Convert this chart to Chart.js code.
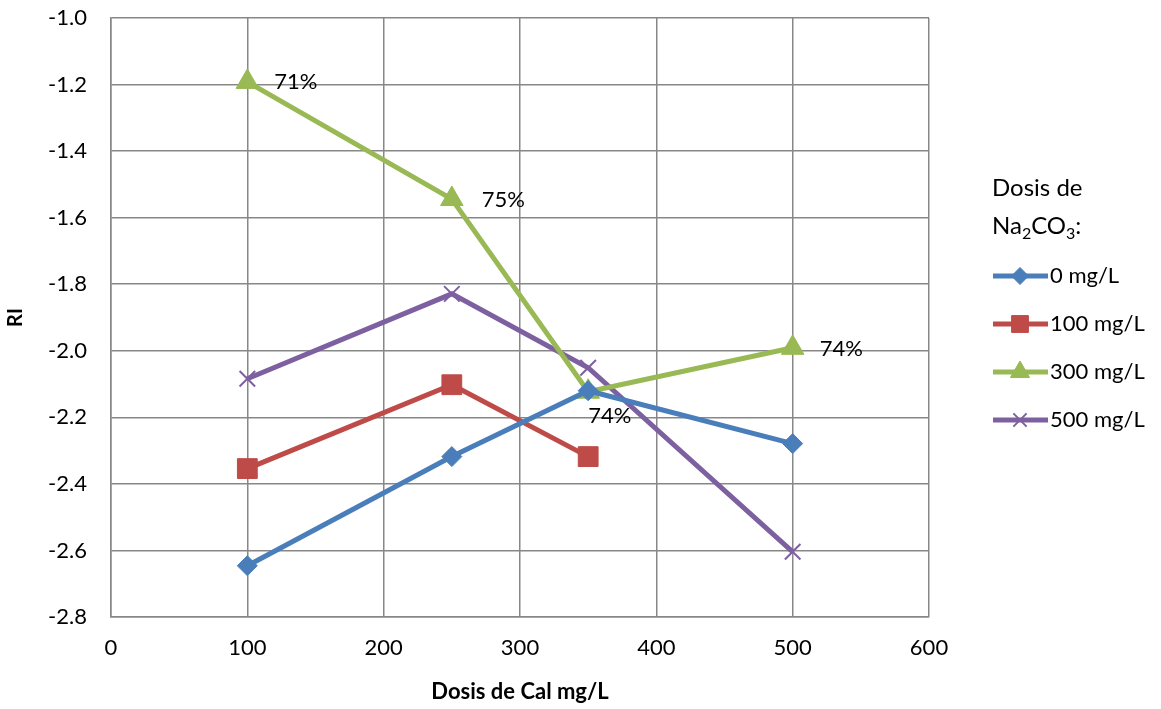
<!DOCTYPE html>
<html>
<head>
<meta charset="utf-8">
<script src="https://cdn.jsdelivr.net/npm/chart.js@4.4.1/dist/chart.umd.min.js"></script>
<style>
  html, body { margin: 0; padding: 0; background: #fff; }
  #wrap { width: 1161px; height: 709px; }
</style>
</head>
<body>
<div id="wrap"><canvas id="riChart" width="1161" height="709"></canvas></div>
<script>
const doseCal = [100, 250, 350, 500];
const ri0 = [-2.646, -2.318, -2.12, -2.279];
const ri100 = [-2.354, -2.102, -2.318];
const ri300 = [-1.192, -1.544, -2.123, -1.991];
const ri500 = [-2.084, -1.829, -2.051, -2.604];
const pctLabels300 = ['71%', '75%', '74%', '74%'];
const seriesNames = ['0 mg/L', '100 mg/L', '300 mg/L', '500 mg/L'];
const xTicks = [0, 100, 200, 300, 400, 500, 600];
const yTicks = [-2.8, -2.6, -2.4, -2.2, -2.0, -1.8, -1.6, -1.4, -1.2, -1.0];

const FONT = 'Lato, "Open Sans", sans-serif';
const colors = ['#4a7ebb', '#be4b48', '#98b954', '#7d60a0'];
const styles = ['rectRot', 'rect', 'triangle', 'crossRot'];
const radii = [10, 14, 13, 11];

function pts(ys) {
    return ys.map((y, i) => ({ x: doseCal[i], y: y }));
}

const allSeries = [ri0, ri100, ri300, ri500];

// percentage labels next to the 300 mg/L points
const pctPlugin = {
    id: 'pctLabels',
    afterDatasetsDraw(chart) {
        const meta = chart.getDatasetMeta(2);
        const c = chart.ctx;
        const offs = [[27, 0], [30, 1], [0, 24], [27, 1]];
        c.save();
        c.font = '22px ' + FONT;
        c.fillStyle = '#000';
        c.textBaseline = 'middle';
        c.textAlign = 'left';
        meta.data.forEach((p, i) => {
            c.fillText(pctLabels300[i], p.x + offs[i][0], p.y + offs[i][1]);
        });
        c.restore();
    }
};

// legend with subscripted title
const legendPlugin = {
    id: 'sideLegend',
    afterDraw(chart) {
        const c = chart.ctx;
        c.save();
        c.fillStyle = '#000';
        c.textBaseline = 'middle';
        c.textAlign = 'left';
        c.font = '24px ' + FONT;
        c.fillText('Dosis de', 992, 188);
        let x = 992;
        const y2 = 226;
        const parts = [['Na', 0], ['2', 1], ['CO', 0], ['3', 1], [':', 0]];
        parts.forEach(([t, sub]) => {
            c.font = (sub ? '16px ' : '24px ') + FONT;
            c.fillText(t, x, sub ? y2 + 8 : y2);
            x += c.measureText(t).width;
        });
        c.font = '22px ' + FONT;
        seriesNames.forEach((name, i) => {
            const y = 276 + i * 48;
            c.strokeStyle = colors[i];
            c.fillStyle = colors[i];
            c.lineWidth = 5;
            c.beginPath();
            c.moveTo(993, y);
            c.lineTo(1048, y);
            c.stroke();
            c.lineWidth = styles[i] === 'crossRot' ? 2 : 1;
            Chart.helpers.drawPoint(c, {
                pointStyle: styles[i], radius: radii[i] * 0.85, borderWidth: c.lineWidth
            }, 1020, y);
            c.fillStyle = '#000';
            c.fillText(name, 1050, y);
        });
        c.restore();
    }
};

const ctx = document.getElementById('riChart').getContext('2d');
const riChart = new Chart(ctx, {
    type: 'line',
    data: {
        datasets: allSeries.map((ys, i) => ({
            label: seriesNames[i],
            data: pts(ys),
            borderColor: colors[i],
            backgroundColor: colors[i],
            borderWidth: 5,
            pointStyle: styles[i],
            pointRadius: radii[i],
            pointBorderWidth: styles[i] === 'crossRot' ? 2 : 1,
            pointBorderColor: colors[i],
            pointBackgroundColor: colors[i],
            tension: 0,
            fill: false,
        })),
    },
    options: {
        responsive: false,
        animation: false,
        layout: { padding: { left: 0, right: 232, top: 18, bottom: 0 } },
        plugins: {
            legend: { display: false },
            tooltip: { enabled: false },
        },
        scales: {
            x: {
                type: 'linear',
                min: 0,
                max: 600,
                afterBuildTicks: s => { s.ticks = xTicks.map(v => ({ value: v })); },
                afterFit: s => { s.height = 92; s.paddingLeft = 0; s.paddingRight = 0; },
                grid: { color: '#878787', lineWidth: 1.5, drawTicks: false },
                border: { color: '#878787', width: 1.5 },
                ticks: { color: '#000', font: { family: FONT, size: 22 }, padding: 18 },
                title: { display: true, text: 'Dosis de Cal mg/L', color: '#000',
                         font: { family: FONT, size: 22, weight: 'bold' }, padding: { top: 6 } },
            },
            y: {
                type: 'linear',
                min: -2.8,
                max: -1.0,
                afterBuildTicks: s => { s.ticks = yTicks.map(v => ({ value: v })); },
                afterFit: s => { s.width = 111; s.paddingTop = 0; s.paddingBottom = 0; },
                grid: { color: '#878787', lineWidth: 1.5, drawTicks: false },
                border: { color: '#878787', width: 1.5 },
                ticks: { color: '#000', font: { family: FONT, size: 22 }, padding: 24,
                         callback: v => v.toFixed(1) },
                title: { display: true, text: 'RI', color: '#000',
                         font: { family: FONT, size: 20, weight: 'bold' } },
            },
        },
    },
    plugins: [pctPlugin, legendPlugin],
});
</script>
</body>
</html>
